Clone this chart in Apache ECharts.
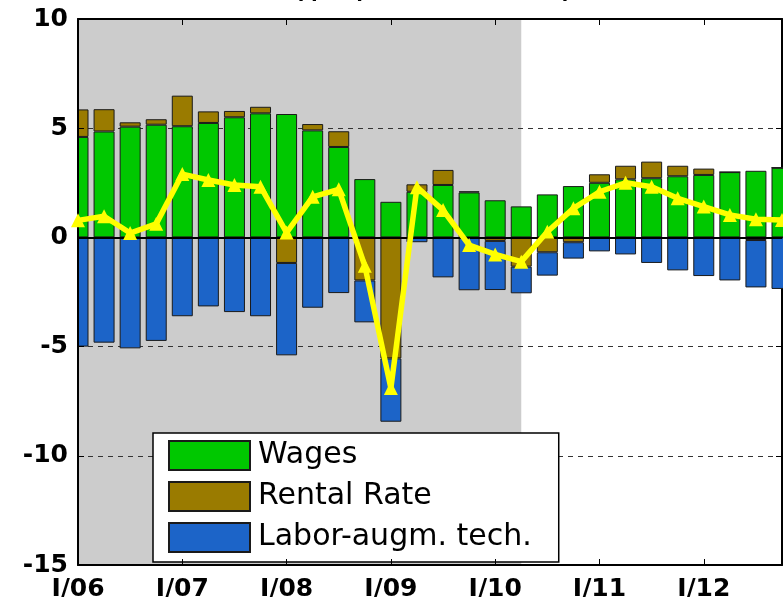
<!DOCTYPE html>
<html>
<head>
<meta charset="utf-8">
<script src="https://cdn.jsdelivr.net/npm/echarts@6/dist/echarts.min.js"></script>
<style>
  html, body { margin: 0; padding: 0; background: #fff; }
  #chart { width: 783px; height: 597px; }
</style>
</head>
<body>
<div id="chart"></div>
<script>
// quarters I/06 .. IV/12, one bar per quarter
var quarters = [
  'I/06', 'II/06', 'III/06', 'IV/06', 'I/07', 'II/07', 'III/07', 'IV/07',
  'I/08', 'II/08', 'III/08', 'IV/08', 'I/09', 'II/09', 'III/09', 'IV/09',
  'I/10', 'II/10', 'III/10', 'IV/10', 'I/11', 'II/11', 'III/11', 'IV/11',
  'I/12', 'II/12', 'III/12', 'IV/12'
]
var xTickLabels = ['I/06', 'I/07', 'I/08', 'I/09', 'I/10', 'I/11', 'I/12']

var wages = [4.6, 4.85, 5.07, 5.16, 5.09, 5.24, 5.5, 5.68, 5.65, 4.9, 4.14, 2.67, 1.63, 2.09,
  2.4, 2.06, 1.7, 1.42, 1.97, 2.35, 2.5, 2.66, 2.71, 2.8, 2.86, 2.99, 3.05, 3.19]
var rental = [1.26, 1.02, 0.2, 0.25, 1.4, 0.53, 0.29, 0.3, -1.17, 0.29, 0.72, -1.97, -5.54, 0.34,
  0.69, 0.05, -0.16, -1.34, -0.68, -0.22, 0.39, 0.62, 0.76, 0.48, 0.29, 0, -0.12, 0]
var labor = [-5.0, -4.82, -5.08, -4.74, -3.61, -3.16, -3.42, -3.61, -4.23, -3.22, -2.55, -1.92, -2.9, -0.22,
  -1.83, -2.42, -2.25, -1.22, -1.07, -0.75, -0.64, -0.78, -1.17, -1.51, -1.77, -1.97, -2.17, -2.36]
var total = [0.78, 0.97, 0.2, 0.62, 2.9, 2.63, 2.4, 2.32, 0.22, 1.86, 2.2, -1.3, -6.9, 2.3,
  1.25, -0.35, -0.78, -1.11, 0.26, 1.33, 2.09, 2.5, 2.32, 1.79, 1.41, 1.03, 0.83, 0.8]

var shadeFrom = 'I/06', shadeTo = 'II/10'  // shaded (history) part

var tickFont = { color: '#000', fontFamily: 'DejaVu Sans', fontWeight: 'bold', fontSize: 25 }
var barEdge = { borderColor: '#1a1a1a', borderWidth: 1 }

var chart = echarts.init(document.getElementById('chart'))

var option = {
  animation: false,
  backgroundColor: '#fff',
  title: {
    text: '(q-o-q, annualized, in %)',
    left: 290,
    top: -28,
    textStyle: { fontFamily: 'Liberation Sans', fontWeight: 'bold', fontSize: 24, color: '#000' }
  },
  grid: { left: 78, right: 1, top: 19, bottom: 32, outerBoundsMode: 'none' },
  // bars on a boundaryGap:false axis are not clipped at the ends, so mask the left overhang
  graphic: [{
    type: 'rect',
    z: 3.5,
    silent: true,
    shape: { x: 0, y: 19, width: 77, height: 546 },
    style: { fill: '#fff' }
  }],
  legend: {
    data: ['Wages', 'Rental Rate', 'Labor-augm. tech.'],
    orient: 'vertical',
    left: 153,
    top: 433,
    icon: 'rect',
    itemWidth: 81,
    itemHeight: 29,
    itemGap: 10,
    padding: [7, 27, 9, 15],
    backgroundColor: '#fff',
    borderColor: '#000',
    borderWidth: 1.5,
    selectedMode: false,
    textStyle: { fontFamily: 'DejaVu Sans', fontSize: 30, color: '#000', padding: [0, 0, 0, 3] }
  },
  xAxis: [{
    type: 'category',
    data: quarters,
    boundaryGap: false,
    z: 4,
    axisLine: { onZero: false, lineStyle: { color: '#000', width: 2 } },
    axisTick: { inside: true, length: 6, interval: 3, lineStyle: { color: '#000' } },
    splitLine: { show: false },
    axisLabel: {
      ...tickFont,
      margin: 12,
      interval: 3,
      formatter: function (v) { return xTickLabels.indexOf(v) >= 0 ? v : '' }
    }
  }, {
    type: 'category',
    data: quarters,
    boundaryGap: false,
    position: 'top',
    z: 4,
    axisLine: { show: true, onZero: false, lineStyle: { color: '#000', width: 2 } },
    axisTick: { inside: true, length: 6, interval: 3, lineStyle: { color: '#000' } },
    splitLine: { show: false },
    axisLabel: { show: false }
  }],
  yAxis: [{
    type: 'value',
    min: -15,
    max: 10,
    interval: 5,
    z: 4,
    axisLine: { show: true, lineStyle: { color: '#000', width: 2 } },
    axisTick: { show: true, inside: true, length: 6, lineStyle: { color: '#000' } },
    splitLine: { show: false },
    axisLabel: { ...tickFont, margin: 10 }
  }, {
    // dashed grid lines, kept between the gray shade and the bars
    type: 'value',
    position: 'right',
    min: -15,
    max: 10,
    interval: 5,
    z: 2,
    axisLine: { show: true, lineStyle: { color: '#000', width: 2 } },
    axisTick: { show: true, inside: true, length: 6, lineStyle: { color: '#000' } },
    splitLine: {
      show: true,
      showMinLine: false,
      showMaxLine: false,
      lineStyle: { color: '#333', width: 1, type: [5, 5] }
    },
    axisLabel: { show: false }
  }],
  series: [
    {
      // holder for the gray shaded area
      name: 'shade',
      type: 'line',
      data: [],
      z: 1,
      markArea: {
        silent: true,
        z: 1,
        itemStyle: { color: '#cccccc' },
        data: [[{ xAxis: shadeFrom }, { xAxis: shadeTo }]]
      }
    },
    {
      name: 'Wages',
      type: 'bar',
      stack: 'c',
      barWidth: 21,
      z: 3,
      itemStyle: { color: '#00c800', ...barEdge },
      data: wages
    },
    {
      name: 'Rental Rate',
      type: 'bar',
      stack: 'c',
      barWidth: 21,
      z: 3,
      itemStyle: { color: '#9a7b00', ...barEdge },
      data: rental
    },
    {
      name: 'Labor-augm. tech.',
      type: 'bar',
      stack: 'c',
      barWidth: 21,
      z: 3,
      itemStyle: { color: '#1c64c8', ...barEdge },
      data: labor,
      markLine: {
        silent: true,
        symbol: 'none',
        label: { show: false },
        lineStyle: { color: '#000', width: 2, type: 'solid' },
        data: [{ yAxis: 0 }]
      }
    },
    {
      name: 'Total',
      type: 'line',
      z: 5,
      clip: false,
      symbol: 'triangle',
      symbolSize: 14,
      lineStyle: { color: '#ffff00', width: 5.5 },
      itemStyle: { color: '#ffff00' },
      data: total
    }
  ]
}

chart.setOption(option)
</script>
</body>
</html>
